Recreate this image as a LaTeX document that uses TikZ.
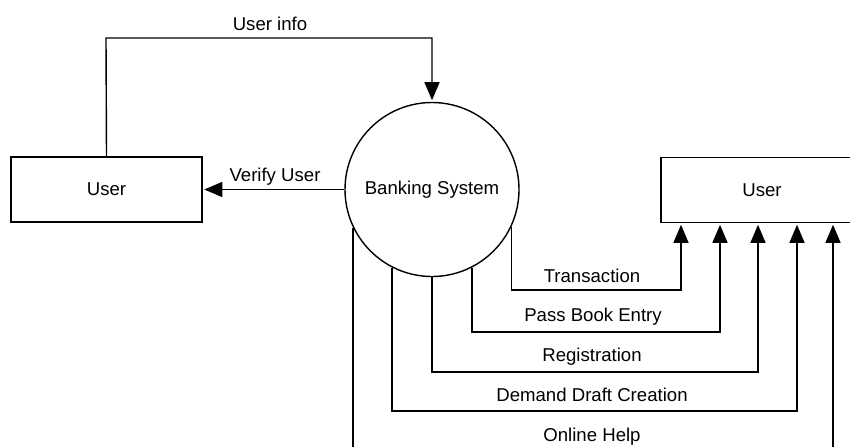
\documentclass[tikz,border=0pt]{standalone}
\usepackage{fontspec}
\setmainfont{Liberation Sans}
\usetikzlibrary{positioning,calc,arrows.meta}
\tikzset{font=\fontsize{9.3}{11}\selectfont}

\begin{document}
\begin{tikzpicture}[x=0.5pt, y=-0.5pt, line width=0.7pt,
	flow/.style={-{Triangle[length=9pt,width=7.5pt]}, shorten >=0.8pt},
	entity/.style={draw, minimum width=95.5pt, minimum height=32.5pt, inner sep=0pt},
	process/.style={draw, circle, minimum size=87pt, inner sep=0pt},
	lbl/.style={inner sep=1pt}]
	\useasboundingbox (0,0) rectangle (850,446);
	\clip (0,0) rectangle (850,446);
	\begin{scope}
		\node[entity]  (user1) at (106.5, 189.5) {User};
		\node[process] (bank)  at (432, 189.5)   {Banking System};
		\node[entity, minimum width=101pt] (user2) at (762, 190) {User};

		% corners of the flows into the right user
		\coordinate (tr) at (681, 290);
		\coordinate (pb) at (720, 332);
		\coordinate (rg) at (758, 372);
		\coordinate (dd) at (797, 411);
		\coordinate (oh) at (833, 452);
		\coordinate (ui) at (106, 38);

		\draw[flow] (user1.north) -- (ui) -| (bank.north);
		\draw[flow] (bank.west) -- (user1.east);
		\draw[flow] (bank.-25)  |- (tr) -- (tr |- user2.south);
		\draw[flow] (bank.-63)  |- (pb) -- (pb |- user2.south);
		\draw[flow] (bank.south) |- (rg) -- (rg |- user2.south);
		\draw[flow] (bank.-117) |- (dd) -- (dd |- user2.south);
		\draw[flow] (bank.-154) |- (oh) -- (oh |- user2.south);

		\node[lbl] (lui) at (270, 24)  {User info};
		\node[lbl] (lvu) at (275, 177) {Verify User};
		\node[lbl] (ltr) at (592, 276) {Transaction};
		\node[lbl] (lpb) at (593, 317) {Pass Book Entry};
		\node[lbl] (lrg) at (592, 357) {Registration};
		\node[lbl] (ldd) at (592, 395) {Demand Draft Creation};
		\node[lbl] (loh) at (592, 437) {Online Help};
	\end{scope}
\end{tikzpicture}
\end{document}
